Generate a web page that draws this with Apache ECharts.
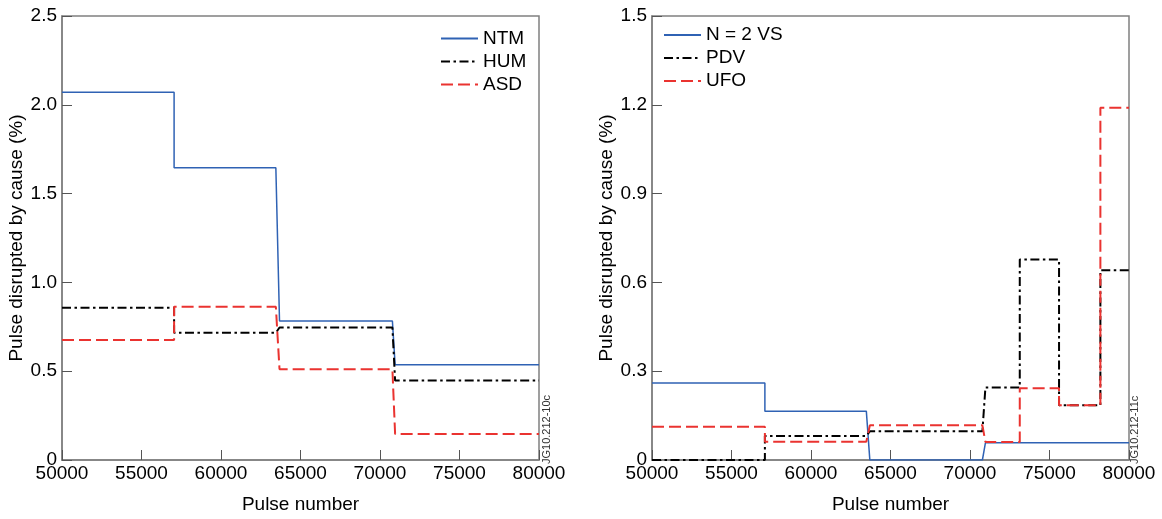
<!DOCTYPE html>
<html>
<head>
<meta charset="utf-8">
<script src="https://cdn.jsdelivr.net/npm/echarts@6/dist/echarts.min.js"></script>
<style>
html,body{margin:0;padding:0;background:#fff;}
#chart{width:1162px;height:519px;}
</style>
</head>
<body>
<div id="chart"></div>
<script>
// ---- Data ----
// Left panel: pulse numbers of the step corners
const leftPulse = [50000, 57050, 57050, 63450, 63680, 70780, 70950, 80000];
const ntm = [2.07, 2.07, 1.645, 1.645, 0.783, 0.783, 0.537, 0.537];
const hum = [0.857, 0.857, 0.716, 0.716, 0.746, 0.746, 0.447, 0.447];
const asd = [0.675, 0.675, 0.863, 0.863, 0.511, 0.511, 0.147, 0.147];

// Right panel
const rightPulse = [50000, 57100, 57100, 63480, 63700, 70780, 70970, 73130, 73130, 75600, 75600, 78200, 78200, 80000];
const vs2 = [0.26, 0.26, 0.165, 0.165, 0, 0, 0.058, 0.058, 0.058, 0.058, 0.058, 0.058, 0.058, 0.058];
const pdv = [0, 0, 0.081, 0.081, 0.097, 0.097, 0.245, 0.245, 0.677, 0.677, 0.185, 0.185, 0.641, 0.641];
const ufo = [0.112, 0.112, 0.062, 0.062, 0.117, 0.117, 0.061, 0.061, 0.242, 0.242, 0.185, 0.185, 1.19, 1.19];

const leftNames = ['NTM', 'HUM', 'ASD'];
const rightNames = ['N = 2 VS', 'PDV', 'UFO'];
const xTicks = [50000, 55000, 60000, 65000, 70000, 75000, 80000];
const leftYTicks = [0, 0.5, 1.0, 1.5, 2.0, 2.5];
const rightYTicks = [0, 0.3, 0.6, 0.9, 1.2, 1.5];
const xTitle = 'Pulse number';
const yTitle = 'Pulse disrupted by cause (%)';
const stamps = ['JG10.212-10c', 'JG10.212-11c'];

// ---- Chart ----
const FONT = '"Liberation Sans", Arial, Helvetica, sans-serif';
const BLUE = '#2f62b4', BLACK = '#000000', RED = '#ea3330';
const AX = '#808080';

function pairs(xs, ys) { return xs.map((x, i) => [x, ys[i]]); }

function xAxisFor(g) {
  return {
    gridIndex: g, type: 'value',
    min: xTicks[0], max: xTicks[xTicks.length - 1], interval: xTicks[1] - xTicks[0],
    axisLine: { show: true, onZero: false, lineStyle: { color: AX, width: 1.5 } },
    axisTick: { show: true, inside: true, length: 10, lineStyle: { color: '#555', width: 1 } },
    axisLabel: { color: '#000', fontSize: 19, fontFamily: FONT, margin: 4, showMinLabel: true, showMaxLabel: true,
      formatter: v => String(v) },
    splitLine: { show: false },
    name: xTitle, nameLocation: 'middle', nameGap: 35,
    nameTextStyle: { color: '#000', fontSize: 19, fontFamily: FONT }
  };
}
function yAxisFor(g, ticks) {
  return {
    gridIndex: g, type: 'value',
    min: ticks[0], max: ticks[ticks.length - 1], interval: ticks[1] - ticks[0],
    axisLine: { show: true, lineStyle: { color: AX, width: 1.5 } },
    axisTick: { show: true, inside: true, length: 10, lineStyle: { color: '#555', width: 1 } },
    axisLabel: { color: '#000', fontSize: 19, fontFamily: FONT, margin: 5,
      formatter: v => (v === 0 ? '0' : v.toFixed(1)) },
    splitLine: { show: false },
    name: yTitle, nameLocation: 'middle', nameGap: 34, nameRotate: 90,
    nameTextStyle: { color: '#000', fontSize: 19, fontFamily: FONT }
  };
}
function lineSeries(name, xi, xs, ys, color, width, dash) {
  return {
    name, type: 'line', xAxisIndex: xi, yAxisIndex: xi,
    data: pairs(xs, ys), symbol: 'none', showSymbol: false,
    lineStyle: { color, width, type: dash },
    itemStyle: { color },
    animation: false
  };
}
const DASHDOT = [9, 3.5, 2.5, 3.5];
const DASH = [12, 5];

const legendBase = {
  orient: 'vertical', padding: 0, itemWidth: 37, itemHeight: 12, itemGap: 4,
  itemStyle: { color: 'transparent', borderWidth: 0, opacity: 0 },
  textStyle: { color: '#000', fontSize: 19, fontFamily: FONT }
};

const chart = echarts.init(document.getElementById('chart'), null, { renderer: 'canvas' });
chart.setOption({
  backgroundColor: '#fff',
  animation: false,
  textStyle: { fontFamily: FONT },
  grid: [
    { left: 62, right: 623, top: 16, bottom: 55, show: true, borderColor: AX, borderWidth: 1.5, backgroundColor: 'transparent' },
    { left: 652, right: 33, top: 16, bottom: 55, show: true, borderColor: AX, borderWidth: 1.5, backgroundColor: 'transparent' }
  ],
  xAxis: [xAxisFor(0), xAxisFor(1)],
  yAxis: [yAxisFor(0, leftYTicks), yAxisFor(1, rightYTicks)],
  legend: [
    Object.assign({}, legendBase, { left: 440, top: 29, data: leftNames }),
    Object.assign({}, legendBase, { left: 663, top: 25.5, data: rightNames })
  ],
  graphic: [
    { type: 'text', x: 547, y: 464, rotation: Math.PI / 2,
      style: { text: stamps[0], fontSize: 11, fontFamily: FONT, fill: '#333', align: 'left', verticalAlign: 'middle' } },
    { type: 'text', x: 1135, y: 464, rotation: Math.PI / 2,
      style: { text: stamps[1], fontSize: 11, fontFamily: FONT, fill: '#333', align: 'left', verticalAlign: 'middle' } }
  ],
  series: [
    lineSeries(leftNames[0], 0, leftPulse, ntm, BLUE, 1.5, 'solid'),
    lineSeries(leftNames[1], 0, leftPulse, hum, BLACK, 2, DASHDOT),
    lineSeries(leftNames[2], 0, leftPulse, asd, RED, 2, DASH),
    lineSeries(rightNames[0], 1, rightPulse, vs2, BLUE, 1.5, 'solid'),
    lineSeries(rightNames[1], 1, rightPulse, pdv, BLACK, 2, DASHDOT),
    lineSeries(rightNames[2], 1, rightPulse, ufo, RED, 2, DASH)
  ]
});
</script>
</body>
</html>
